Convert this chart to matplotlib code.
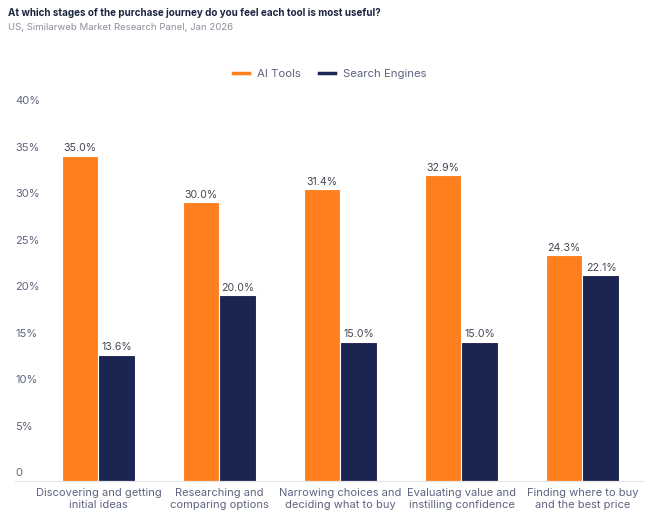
import numpy as np
import matplotlib.pyplot as plt
from matplotlib.lines import Line2D

plt.rcParams['font.family'] = ['Inter', 'DejaVu Sans']

stages = ["Discovering and getting\ninitial ideas",
          "Researching and\ncomparing options",
          "Narrowing choices and\ndeciding what to buy",
          "Evaluating value and\ninstilling confidence",
          "Finding where to buy\nand the best price"]
ai_tools = [35.0, 30.0, 31.4, 32.9, 24.3]
search_engines = [13.6, 20.0, 15.0, 15.0, 22.1]
yticks = [0, 5, 10, 15, 20, 25, 30, 35, 40]

orange = "#FF7F1E"
navy = "#1C2551"
grey_txt = "#5E6480"

fig = plt.figure(figsize=(6.5, 5.18), dpi=100)
ax = fig.add_axes([15/650, 37/518, 628/650, 372/518])

x = np.arange(len(stages))
w = 0.305
b1 = ax.bar(x - w/2, ai_tools, w, color=orange, edgecolor="white", linewidth=0.8)
b2 = ax.bar(x + w/2, search_engines, w, color=navy, edgecolor="white", linewidth=0.8)

for bars, vals in [(b1, ai_tools), (b2, search_engines)]:
    for r, v in zip(bars, vals):
        ax.annotate(f"{v:.1f}%", (r.get_x() + r.get_width()/2, r.get_height()),
                    xytext=(0, 1.5), textcoords="offset points",
                    ha="center", va="bottom", fontsize=7.6, color="#444654")

ax.set_xlim(-0.69, 4.5)
ax.set_ylim(0, 40)
ax.set_yticks([])
ax.set_xticks(x)
ax.set_xticklabels(stages, fontsize=8, color=grey_txt, linespacing=1.25)
ax.tick_params(axis="x", length=0, pad=5)

for t in yticks:
    lab = "0" if t == 0 else f"{t}%"
    ax.text(-0.69, t + 0.85, lab, ha="left", va="center", fontsize=8, color=grey_txt)

for s in ["top", "right", "left"]:
    ax.spines[s].set_visible(False)
ax.spines["bottom"].set_color("#E3E5EA")
ax.spines["bottom"].set_linewidth(0.8)

fig.text(8/650, 1 - 13/518, "At which stages of the purchase journey do you feel each tool is most useful?",
         fontsize=7.1, fontweight="bold", color="#1B2540", va="center")
fig.text(8/650, 1 - 28/518, "US, Similarweb Market Research Panel, Jan 2026",
         fontsize=6.9, color="#8A8F9A", va="center")

handles = [Line2D([], [], color=orange, lw=2.5), Line2D([], [], color=navy, lw=2.5)]
fig.legend(handles, ["AI Tools", "Search Engines"], loc="center", ncol=2,
           bbox_to_anchor=(330/650, 1 - 74/518), frameon=False, fontsize=8.2,
           handlelength=1.4, handletextpad=0.7, columnspacing=1.6,
           labelcolor=grey_txt)

fig.savefig("out.png", dpi=100)
